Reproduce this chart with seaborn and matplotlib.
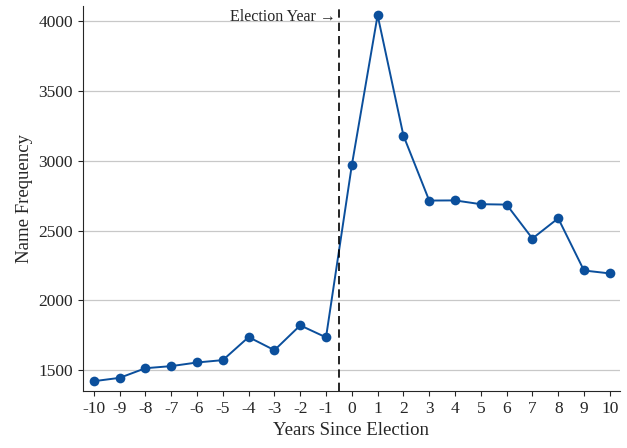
import seaborn as sns
import matplotlib.pyplot as plt
import pandas as pd

years = list(range(-10, 11))
frequency = [1421, 1445, 1514, 1529, 1555, 1572, 1737, 1643, 1821, 1735,
             2968, 4043, 3181, 2715, 2716, 2689, 2686, 2443, 2588, 2214, 2193]

df = pd.DataFrame({"year": years, "freq": frequency})

sns.set_style("ticks")
plt.rcParams["font.family"] = ["Liberation Serif", "DejaVu Serif"]
plt.rcParams["axes.unicode_minus"] = False

fig = plt.figure(figsize=(6.27, 4.48), dpi=100)
ax = fig.add_axes([0.132, 0.127, 0.857, 0.86])

ax.yaxis.grid(True, color="#c8c8c8", linewidth=0.9)
ax.set_axisbelow(True)

sns.lineplot(data=df, x="year", y="freq", ax=ax, color="#0b4f9c",
             marker="o", markersize=7, markeredgewidth=0, linewidth=1.4)

ax.axvline(-0.5, color="black", linestyle=(0, (5, 3)), linewidth=1.2)
ax.text(-0.62, 4030, "Election Year \u2192", ha="right", va="center", fontsize=11.5)

ax.set_xlim(-10.43, 10.4)
ax.set_ylim(1350, 4110)
ax.set_xticks(years)
ax.set_yticks([1500, 2000, 2500, 3000, 3500, 4000])
ax.tick_params(labelsize=12.5)
ax.set_xlabel("Years Since Election", fontsize=13.5)
ax.set_ylabel("Name Frequency", fontsize=13.5)
sns.despine(ax=ax)

fig.savefig("out.png", dpi=100)
